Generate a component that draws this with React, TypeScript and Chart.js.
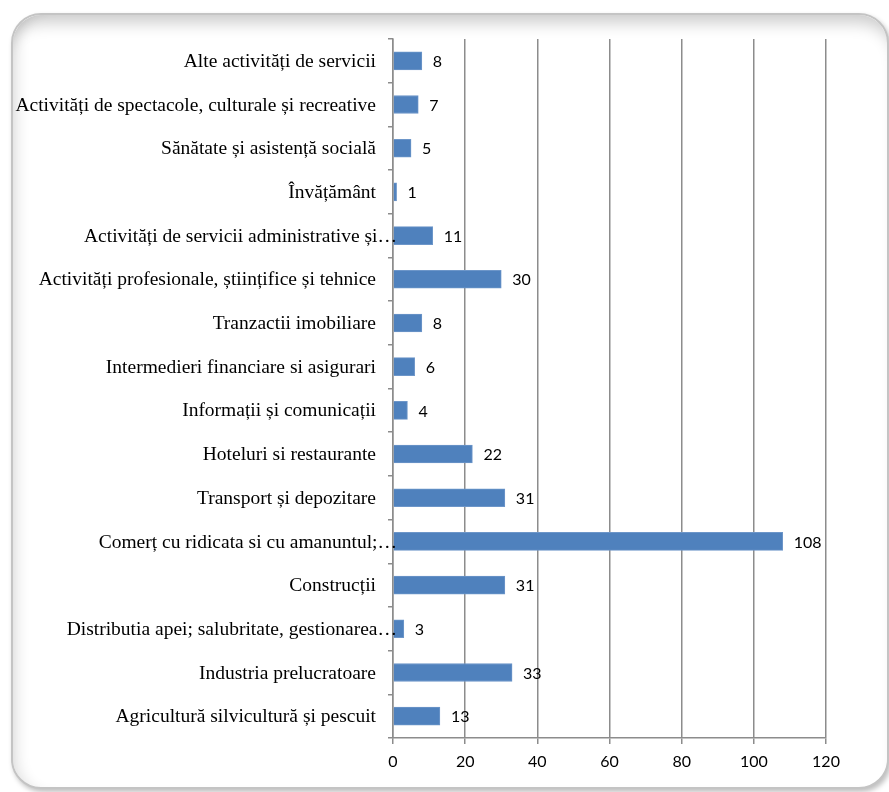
import React, { useEffect, useRef } from "react";
import { Chart, registerables } from "chart.js";

Chart.register(...registerables);

const categories: string[] = [
  "Alte activități de servicii",
  "Activități de spectacole, culturale și recreative",
  "Sănătate și asistență socială",
  "Învățământ",
  "Activități de servicii administrative și…",
  "Activități profesionale, științifice și tehnice",
  "Tranzactii imobiliare",
  "Intermedieri financiare si asigurari",
  "Informații și comunicații",
  "Hoteluri si restaurante",
  "Transport și depozitare",
  "Comerț cu ridicata si cu amanuntul;…",
  "Construcții",
  "Distributia apei; salubritate, gestionarea…",
  "Industria prelucratoare",
  "Agricultură silvicultură și pescuit",
];

const values: number[] = [8, 7, 5, 1, 11, 30, 8, 6, 4, 22, 31, 108, 31, 3, 33, 13];

const xMin = 0;
const xMax = 120;
const xStep = 20;

const W = 889;
const H = 792;

const labelFont = "19.5px 'Liberation Serif', 'Times New Roman', serif";
const numFont = "16px Lato, 'Open Sans', sans-serif";

const labelsPlugin = {
  id: "customLabels",
  afterDatasetsDraw(chart: any) {
    const ctx = chart.ctx;
    const meta = chart.getDatasetMeta(0);
    const yScale = chart.scales.y;
    const left = chart.chartArea.left;
    ctx.save();
    // category labels
    ctx.font = labelFont;
    ctx.fillStyle = "#000";
    ctx.textAlign = "right";
    ctx.textBaseline = "middle";
    categories.forEach((c, i) => {
      const y = yScale.getPixelForTick(i) + 1;
      const x = c.endsWith("…") ? left + 4 : left - 17;
      ctx.fillText(c, x, y);
    });
    // value labels
    ctx.font = numFont;
    ctx.textAlign = "left";
    meta.data.forEach((bar: any, i: number) => {
      ctx.fillText(String(values[i]), bar.x + 11, bar.y + 1);
    });
    ctx.restore();
  },
};

export default function App() {
  const ref = useRef<HTMLCanvasElement | null>(null);

  useEffect(() => {
    if (!ref.current) return;
    const chart = new Chart(ref.current, {
      type: "bar",
      data: {
        labels: categories,
        datasets: [
          {
            data: values,
            backgroundColor: "#4F81BD",
            borderColor: "#6d96c9",
            borderWidth: 1,
            barThickness: 18,
          },
        ],
      },
      options: {
        indexAxis: "y",
        responsive: false,
        animation: false,
        devicePixelRatio: 1,
        layout: { padding: { top: 39, right: 63, left: 0, bottom: 0 } },
        plugins: {
          legend: { display: false },
          tooltip: { enabled: false },
        },
        scales: {
          x: {
            min: xMin,
            max: xMax,
            ticks: {
              stepSize: xStep,
              color: "#000",
              padding: 8,
              font: { family: "Lato, 'Open Sans', sans-serif", size: 16 },
            },
            grid: {
              color: "#8c8c8c",
              lineWidth: 1.5,
              tickLength: 6,
              tickColor: "#8c8c8c",
            },
            border: { color: "#8c8c8c", width: 1.5 },
            afterFit: (scale: any) => {
              scale.height = 54;
            },
          },
          y: {
            ticks: {
              display: false,
            },
            grid: {
              drawOnChartArea: false,
              drawTicks: true,
              tickLength: 5,
              tickColor: "#8c8c8c",
              lineWidth: 1.5,
            },
            border: { color: "#8c8c8c", width: 1.5 },
            afterFit: (scale: any) => {
              scale.width = 393;
            },
          },
        },
      },
      plugins: [labelsPlugin],
    });
    return () => chart.destroy();
  }, []);

  return (
    <div
      style={{
        position: "absolute",
        left: 0,
        top: 0,
        width: W,
        height: H,
        overflow: "hidden",
        background: "#fff",
      }}
    >
      <div
        style={{
          position: "absolute",
          left: 11,
          top: 13,
          width: 874,
          height: 772,
          border: "2px solid #c4c4c4",
          borderRadius: 30,
          background: "#fff",
          boxShadow:
            "inset 0 18px 16px -10px rgba(0,0,0,0.2), inset 14px 0 14px -10px rgba(0,0,0,0.12), 2px 3px 5px rgba(0,0,0,0.25)",
        }}
      />
      <canvas
        ref={ref}
        width={W}
        height={H}
        style={{ position: "absolute", left: 0, top: 0, width: W, height: H }}
      />
    </div>
  );
}
